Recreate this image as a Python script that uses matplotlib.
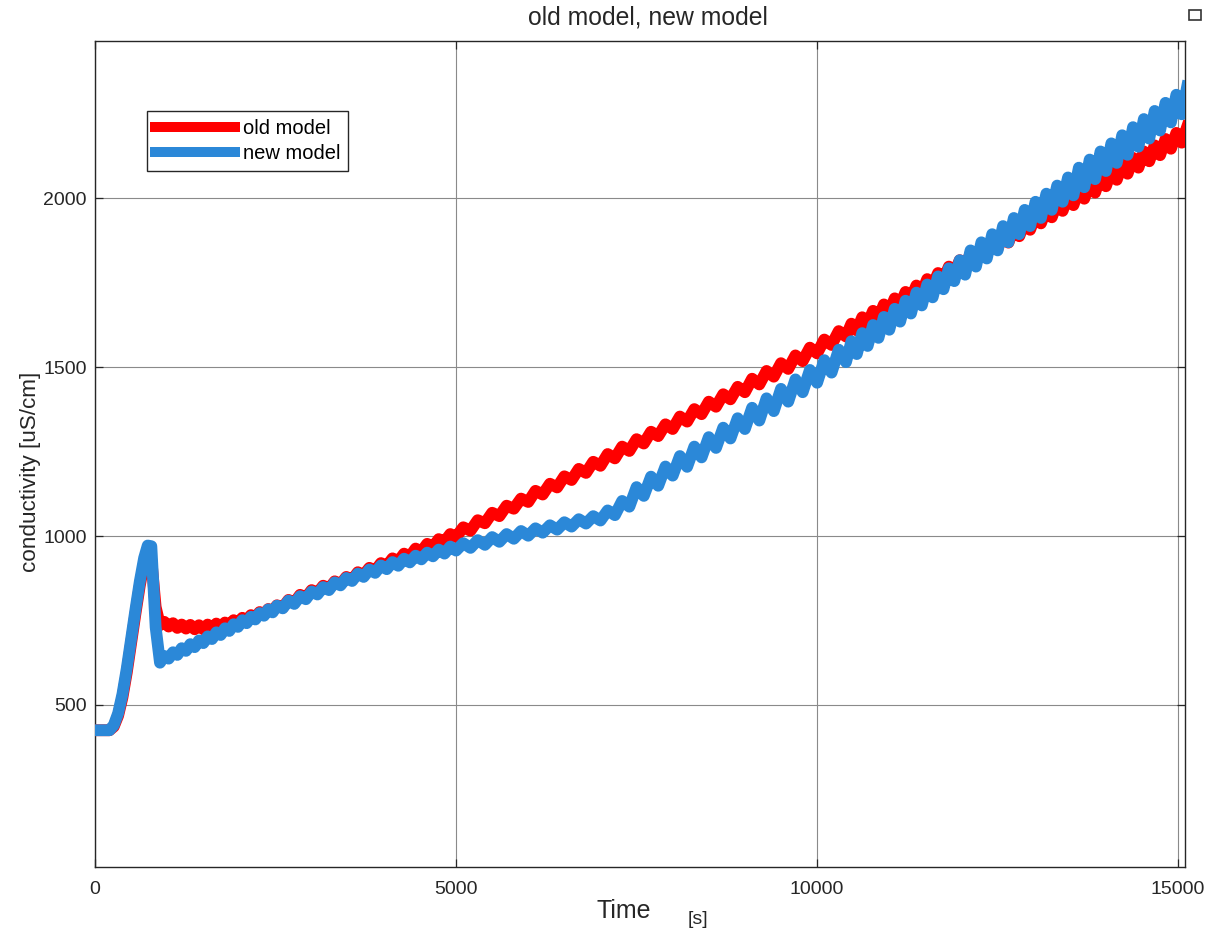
import numpy as np
import matplotlib
matplotlib.use("Agg")
import matplotlib.pyplot as plt
from matplotlib.patches import Rectangle

plt.rcParams['font.family'] = ['Liberation Sans', 'DejaVu Sans']

## start-up part (flat, dosing peak, drop)
t_start = [0, 200, 260, 320, 380, 440, 500, 560, 620, 680, 730, 780, 840]
old_start = [425, 425, 436, 468, 522, 596, 683, 770, 853, 922, 955, 930, 790]
new_start = [425, 425, 440, 475, 532, 608, 695, 782, 865, 935, 972, 970, 730]

## saw-tooth part
# 900 .. 2520 s, every 60 s
old_a = [736, 746, 732, 742, 728, 738, 726, 737, 724, 736,
         724, 738, 727, 741, 730, 744, 735, 751, 742, 758,
         749, 766, 758, 775, 767, 784, 777, 795]
new_a = [625, 645, 637, 656, 648, 668, 660, 680, 671, 691,
         683, 703, 695, 715, 707, 727, 719, 739, 731, 751,
         742, 761, 753, 772, 764, 783, 774, 794]
# 2600 .. 5000 s, every 80 s
old_b = [788, 811, 802, 826, 817, 840, 831, 853, 844, 866,
         857, 879, 870, 893, 884, 906, 897, 920, 911, 934,
         925, 948, 939, 963, 954, 977, 968, 991, 983, 1006, 997]
new_b = [786, 809, 799, 822, 813, 836, 827, 849, 840, 863,
         854, 876, 867, 889, 879, 901, 891, 913, 902, 923,
         912, 933, 922, 942, 931, 951, 940, 960, 948, 969, 957]
# 5100 .. 10400 s, every 100 s
old_c = [1026, 1016, 1047, 1038, 1069, 1059, 1090, 1081, 1111, 1101,
         1134, 1123, 1155, 1144, 1177, 1166, 1199, 1187, 1220, 1208,
         1243, 1230, 1265, 1252, 1287, 1274, 1309, 1296, 1331, 1317,
         1354, 1339, 1376, 1361, 1398, 1383, 1420, 1405, 1442, 1426,
         1466, 1449, 1489, 1472, 1512, 1495, 1535, 1518, 1558, 1541,
         1582, 1566, 1607, 1591]
new_c = [979, 965, 988, 974, 997, 983, 1006, 992, 1015, 1001,
         1023, 1010, 1032, 1019, 1041, 1028, 1050, 1037, 1059, 1046,
         1076, 1062, 1104, 1087, 1145, 1119, 1176, 1149, 1206, 1179,
         1237, 1205, 1265, 1233, 1293, 1261, 1321, 1289, 1349, 1317,
         1380, 1342, 1408, 1370, 1436, 1398, 1464, 1426, 1492, 1454,
         1521, 1484, 1552, 1515]
# 10475 .. 15125 s, every 75 s
old_d = [1629, 1609, 1648, 1628, 1667, 1646, 1686, 1665, 1704, 1684,
         1723, 1703, 1742, 1721, 1761, 1740, 1779, 1759, 1798, 1778,
         1817, 1794, 1838, 1813, 1856, 1832, 1875, 1851, 1894, 1869,
         1913, 1888, 1931, 1907, 1950, 1926, 1969, 1944, 1988, 1963,
         2008, 1980, 2027, 1999, 2046, 2017, 2065, 2036, 2083, 2055,
         2102, 2073, 2120, 2091, 2139, 2110, 2157, 2128, 2176, 2147,
         2194, 2165, 2212]
new_d = [1577, 1539, 1601, 1563, 1625, 1587, 1649, 1611, 1673, 1635,
         1697, 1659, 1721, 1683, 1745, 1707, 1769, 1731, 1793, 1755,
         1817, 1774, 1846, 1798, 1870, 1822, 1894, 1846, 1918, 1870,
         1942, 1894, 1966, 1918, 1990, 1942, 2014, 1966, 2038, 1990,
         2062, 2009, 2091, 2033, 2115, 2057, 2139, 2081, 2163, 2105,
         2187, 2129, 2211, 2153, 2235, 2177, 2259, 2201, 2283, 2225,
         2307, 2249, 2331]

time = np.concatenate([t_start,
                       np.arange(900, 2521, 60),
                       np.arange(2600, 5001, 80),
                       np.arange(5100, 10401, 100),
                       np.arange(10475, 15126, 75)])
old_model = np.concatenate([old_start, old_a, old_b, old_c, old_d])
new_model = np.concatenate([new_start, new_a, new_b, new_c, new_d])

xticks = [0, 5000, 10000, 15000]
yticks = [500, 1000, 1500, 2000]

txt_col = '#262626'
fig = plt.figure(figsize=(12.08, 9.36), dpi=100)
ax = fig.add_axes([95/1208, 69/936, 1090/1208, 826.3/936])

ax.plot(time, old_model, color='#ff0000', lw=8.5, solid_joinstyle='round', label='old model', zorder=3)
ax.plot(time, new_model, color='#2b88d8', lw=8.5, solid_joinstyle='round', label='new model', zorder=4)

ax.set_xlim(0, 15095)
ax.set_ylim(20, 2467)
ax.set_xticks(xticks)
ax.set_yticks(yticks)
ax.grid(True, color='#8a8a8a', lw=0.8, zorder=1)
ax.tick_params(direction='in', length=6, width=0.9, top=True, right=True,
               labelsize=14, colors=txt_col)
ax.tick_params(axis='y', pad=6)
ax.tick_params(axis='x', pad=10)
for s in ax.spines.values():
    s.set_color(txt_col)
    s.set_linewidth(1.0)

fig.text(648/1208, 1 - 18/936, 'old model, new model', ha='center', va='center',
         fontsize=17.8, color=txt_col)
fig.text(31/1208, 1 - 472/936, 'conductivity [uS/cm]', ha='center', va='center',
         rotation=90, fontsize=16.2, color=txt_col)
fig.text(624/1208, 1 - 911/936, 'Time', ha='center', va='center', fontsize=18, color=txt_col)
fig.text(698/1208, 1 - 919/936, '[s]', ha='center', va='center', fontsize=14, color=txt_col)

leg = ax.legend(loc='upper left', bbox_to_anchor=(52/1090, 1 - 70/826.3), fontsize=14.5,
                handlelength=3.95, handletextpad=0.4, borderpad=0.4, labelspacing=0.3,
                borderaxespad=0, fancybox=False, framealpha=1, edgecolor=txt_col)
leg.get_frame().set_linewidth(1.0)
for h in leg.get_lines():
    h.set_linewidth(7.2)

# small undock icon in the corner
fig.patches.append(Rectangle((1189/1208, 1 - 20/936), 12/1208, 10/936, transform=fig.transFigure,
                             fill=False, edgecolor='#333333', lw=1.2))

fig.savefig('out.png', dpi=100)
